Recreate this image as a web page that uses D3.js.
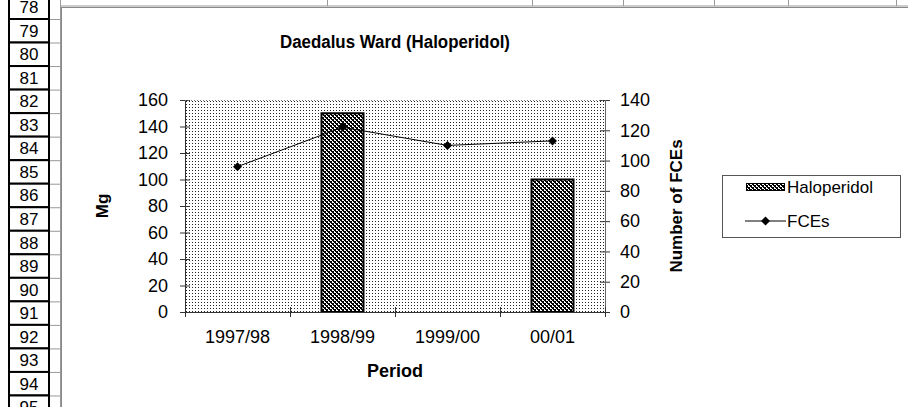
<!DOCTYPE html>
<html>
<head>
<meta charset="utf-8">
<script src="https://cdn.jsdelivr.net/npm/d3@7"></script>
<style>
  body { margin: 0; background: #fff; }
  svg { display: block; }
</style>
</head>
<body>
<script>

let periods = ["1997/98", "1998/99", "1999/00", "00/01"];
let haloperidol = [0, 150, 0, 100];
let fces = [96, 122, 110, 113];
let mgTicks = [0, 20, 40, 60, 80, 100, 120, 140, 160];
let fceTicks = [0, 20, 40, 60, 80, 100, 120, 140];
let rowNumbers = [78, 79, 80, 81, 82, 83, 84, 85, 86, 87, 88, 89, 90, 91, 92, 93, 94, 95];

let canvasW = 908;
let canvasH = 407;
let font = "'Liberation Sans', Arial, sans-serif";

let plotL = 185, plotR = 605, plotT = 100, plotB = 312;

let svg = d3.select("body").append("svg")
  .attr("width", canvasW)
  .attr("height", canvasH)
  .style("background-color", "#fff");

let defs = svg.append("defs");

// dotted plot background
let dots = defs.append("pattern")
  .attr("id", "dots")
  .attr("patternUnits", "userSpaceOnUse")
  .attr("x", plotL).attr("y", plotT)
  .attr("width", 3).attr("height", 3);
dots.append("rect").attr("width", 3).attr("height", 3).attr("fill", "#fff");
dots.append("rect").attr("x", 1).attr("y", 1).attr("width", 1).attr("height", 1).attr("fill", "#222");

// dense diagonal cross hatch for the bars
let hatch = defs.append("pattern")
  .attr("id", "hatch")
  .attr("patternUnits", "userSpaceOnUse")
  .attr("width", 4).attr("height", 4);
hatch.append("rect").attr("width", 4).attr("height", 4).attr("fill", "#fff");
[[0, 0], [1, 0], [1, 1], [2, 1], [2, 2], [3, 2], [3, 3], [0, 3], [3, 1], [1, 3]].forEach(p => {
  hatch.append("rect").attr("x", p[0]).attr("y", p[1])
    .attr("width", 1).attr("height", 1).attr("fill", "#000");
});

// ---- spreadsheet around the chart ----
let rowH = 23.53;
let rowTop = i => 19 + (i - 1) * rowH;

svg.append("line")
  .attr("x1", 60.5).attr("x2", 60.5).attr("y1", 0).attr("y2", canvasH)
  .attr("stroke", "#999");

svg.selectAll("line.grid")
  .data(rowNumbers)
  .join("line")
  .attr("class", "grid")
  .attr("x1", 50).attr("x2", 60)
  .attr("y1", (d, i) => rowTop(i) + 0.5)
  .attr("y2", (d, i) => rowTop(i) + 0.5)
  .attr("stroke", "#999");

[327, 532, 623, 714, 788, 896].forEach(cx => {
  svg.append("line")
    .attr("x1", cx + 0.5).attr("x2", cx + 0.5).attr("y1", 0).attr("y2", 6)
    .attr("stroke", "#999");
});
svg.append("line")
  .attr("x1", 60).attr("x2", canvasW).attr("y1", 6).attr("y2", 6)
  .attr("stroke", "#999");

let headers = svg.selectAll("g.rowhead")
  .data(rowNumbers)
  .join("g")
  .attr("class", "rowhead");

headers.append("rect")
  .attr("x", 9).attr("width", 40)
  .attr("y", (d, i) => rowTop(i))
  .attr("height", rowH)
  .attr("fill", "#fff")
  .attr("stroke", "#000")
  .attr("stroke-width", 2);

headers.append("text")
  .attr("x", 29)
  .attr("y", (d, i) => rowTop(i) + rowH / 2 + 6)
  .attr("text-anchor", "middle")
  .attr("font-family", font)
  .attr("font-size", "17px")
  .attr("fill", "#000")
  .text(d => d);

// chart object border
svg.append("rect")
  .attr("x", 61.5).attr("y", 7.5)
  .attr("width", 900).attr("height", 500)
  .attr("fill", "#fff")
  .attr("stroke", "#888");

// ---- chart ----
let x = d3.scaleBand().domain(periods).range([plotL, plotR]);
let yL = d3.scaleLinear().domain([0, 160]).range([plotB, plotT]);
let yR = d3.scaleLinear().domain([0, 140]).range([plotB, plotT]);
let barW = x.bandwidth() * 0.4;
let cx = p => x(p) + x.bandwidth() / 2;

svg.append("rect")
  .attr("x", plotL).attr("y", plotT)
  .attr("width", plotR - plotL).attr("height", plotB - plotT)
  .attr("fill", "url(#dots)");

svg.selectAll("rect.bar")
  .data(periods.map((p, i) => ({ p: p, v: haloperidol[i] })).filter(d => d.v > 0))
  .join("rect")
  .attr("class", "bar")
  .attr("x", d => cx(d.p) - barW / 2)
  .attr("y", d => yL(d.v))
  .attr("width", barW)
  .attr("height", d => yL(0) - yL(d.v))
  .attr("fill", "url(#hatch)")
  .attr("stroke", "#000")
  .attr("stroke-width", 2);

// left axis (ticks cross the axis line)
let gL = svg.append("g")
  .attr("transform", "translate(" + (plotL + 5) + ",0)")
  .call(d3.axisLeft(yL).tickValues(mgTicks).tickSize(10).tickPadding(12));
gL.select(".domain").remove();
gL.selectAll("line").attr("stroke", "#333");
gL.selectAll("text").attr("font-family", font).attr("font-size", "18px").attr("fill", "#000");

let gR = svg.append("g")
  .attr("transform", "translate(" + (plotR - 5) + ",0)")
  .call(d3.axisRight(yR).tickValues(fceTicks).tickSize(10).tickPadding(10));
gR.select(".domain").remove();
gR.selectAll("line").attr("stroke", "#333");
gR.selectAll("text").attr("font-family", font).attr("font-size", "18px").attr("fill", "#000");

svg.append("line")
  .attr("x1", plotL + 0.5).attr("x2", plotL + 0.5).attr("y1", plotT).attr("y2", plotB)
  .attr("stroke", "#333");
svg.append("line")
  .attr("x1", plotR + 0.5).attr("x2", plotR + 0.5).attr("y1", plotT).attr("y2", plotB)
  .attr("stroke", "#666");
svg.append("line")
  .attr("x1", plotL).attr("x2", plotR).attr("y1", plotT + 0.5).attr("y2", plotT + 0.5)
  .attr("stroke", "#777").attr("stroke-dasharray", "1,2");

let gX = svg.append("g")
  .attr("transform", "translate(0," + plotB + ")")
  .call(d3.axisBottom(x).tickSize(0).tickPadding(18));
gX.select(".domain").remove();
gX.selectAll("text").attr("font-family", font).attr("font-size", "18px").attr("fill", "#000");

svg.append("line")
  .attr("x1", plotL).attr("x2", plotR).attr("y1", plotB + 0.5).attr("y2", plotB + 0.5)
  .attr("stroke", "#333");

svg.selectAll("line.xtick")
  .data(periods.map(p => x(p)).concat([x.range()[1]]))
  .join("line")
  .attr("class", "xtick")
  .attr("x1", d => d + 0.5).attr("x2", d => d + 0.5)
  .attr("y1", plotB - 5).attr("y2", plotB + 5)
  .attr("stroke", "#333");

// FCEs line
let line = d3.line()
  .x((d, i) => cx(periods[i]))
  .y(d => yR(d));

svg.append("path")
  .datum(fces)
  .attr("d", line)
  .attr("fill", "none")
  .attr("stroke", "#000")
  .attr("stroke-width", 1);

let diamond = "M0,-4.5L4.5,0L0,4.5L-4.5,0Z";

svg.selectAll("path.marker")
  .data(fces)
  .join("path")
  .attr("class", "marker")
  .attr("d", diamond)
  .attr("transform", (d, i) => "translate(" + cx(periods[i]) + "," + yR(d) + ")")
  .attr("fill", "#000");

// titles
svg.append("text")
  .attr("x", (plotL + plotR) / 2).attr("y", 48)
  .attr("text-anchor", "middle")
  .attr("font-family", font).attr("font-size", "18px").attr("font-weight", "bold")
  .attr("textLength", 230).attr("lengthAdjust", "spacingAndGlyphs")
  .text("Daedalus Ward (Haloperidol)");

svg.append("text")
  .attr("x", (plotL + plotR) / 2).attr("y", 377)
  .attr("text-anchor", "middle")
  .attr("font-family", font).attr("font-size", "18px").attr("font-weight", "bold")
  .text("Period");

svg.append("text")
  .attr("transform", "translate(108," + (plotT + plotB) / 2 + ") rotate(-90)")
  .attr("text-anchor", "middle")
  .attr("font-family", font).attr("font-size", "17px").attr("font-weight", "bold")
  .text("Mg");

svg.append("text")
  .attr("transform", "translate(682," + (plotT + plotB) / 2 + ") rotate(-90)")
  .attr("text-anchor", "middle")
  .attr("font-family", font).attr("font-size", "17px").attr("font-weight", "bold")
  .text("Number of FCEs");

// legend
let legend = svg.append("g");
legend.append("rect")
  .attr("x", 722.5).attr("y", 175.5)
  .attr("width", 178).attr("height", 62)
  .attr("fill", "#fff")
  .attr("stroke", "#555");

legend.append("rect")
  .attr("x", 746.5).attr("y", 183.5)
  .attr("width", 38).attr("height", 7)
  .attr("fill", "url(#hatch)")
  .attr("stroke", "#000");

legend.append("line")
  .attr("x1", 745).attr("x2", 786).attr("y1", 221).attr("y2", 221)
  .attr("stroke", "#000");
legend.append("path")
  .attr("d", diamond)
  .attr("transform", "translate(765.5,221)")
  .attr("fill", "#000");

legend.selectAll("text")
  .data(["Haloperidol", "FCEs"])
  .join("text")
  .attr("x", 787)
  .attr("y", (d, i) => i == 0 ? 193 : 227)
  .attr("font-family", font)
  .attr("font-size", "17px")
  .attr("fill", "#000")
  .text(d => d);

</script>
</body>
</html>
